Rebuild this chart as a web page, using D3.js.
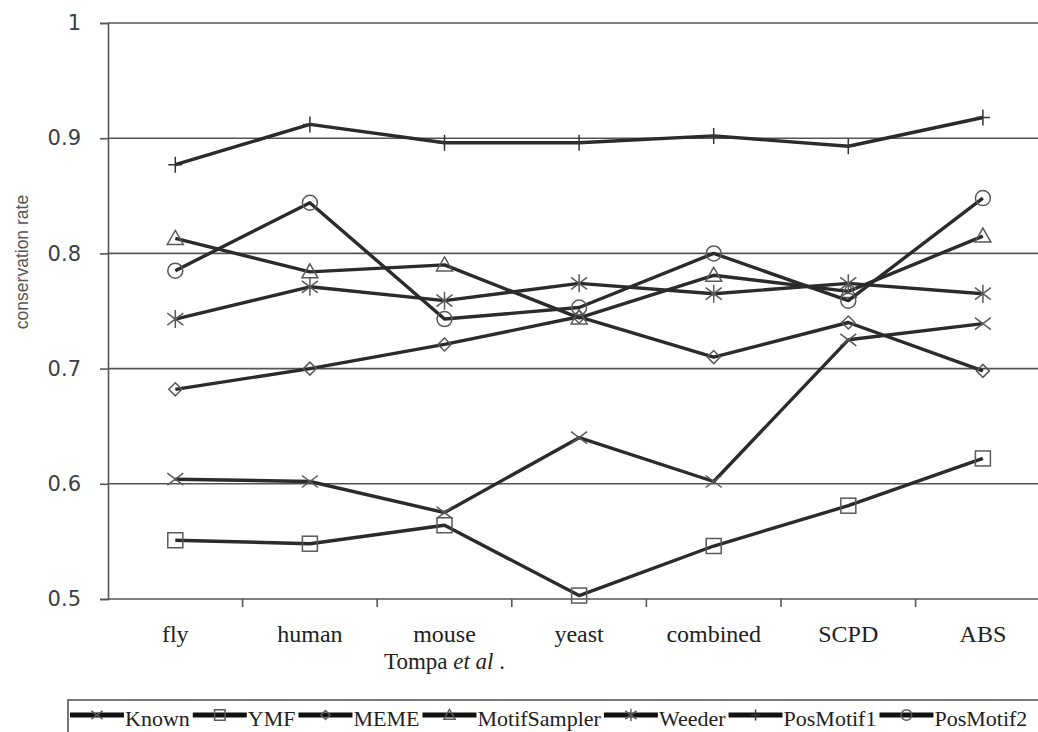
<!DOCTYPE html>
<html>
<head>
<meta charset="utf-8">
<script src="https://cdn.jsdelivr.net/npm/d3@7"></script>
<style>
	body { margin: 0; background: #fff; }
	svg { display: block; }
	.serif { font-family: "Liberation Serif", "Times New Roman", Times, serif; }
</style>
</head>
<body>
<svg id="chart" width="1038" height="732"></svg>
<script>
// categories along the x axis
const categories = ["fly", "human", "mouse", "yeast", "combined", "SCPD", "ABS"];
const yTicks = [0.5, 0.6, 0.7, 0.8, 0.9, 1];

// conservation rate per method
const known        = [0.604, 0.602, 0.575, 0.640, 0.602, 0.725, 0.739];
const ymf          = [0.551, 0.548, 0.564, 0.503, 0.546, 0.581, 0.622];
const meme         = [0.682, 0.700, 0.721, 0.745, 0.710, 0.740, 0.698];
const motifSampler = [0.813, 0.784, 0.790, 0.744, 0.781, 0.767, 0.815];
const weeder       = [0.743, 0.771, 0.759, 0.774, 0.765, 0.774, 0.765];
const posMotif1    = [0.877, 0.912, 0.896, 0.896, 0.902, 0.893, 0.918];
const posMotif2    = [0.785, 0.844, 0.743, 0.753, 0.800, 0.759, 0.848];

const seriesNames = ["Known", "YMF", "MEME", "MotifSampler", "Weeder", "PosMotif1", "PosMotif2"];
const seriesValues = [known, ymf, meme, motifSampler, weeder, posMotif1, posMotif2];
const seriesMarkers = ["x", "square", "diamond", "triangle", "star", "plus", "circle"];

const svg = d3.select("#chart");
const plotLeft = 108, plotTop = 23, plotBottom = 599;
const step = 134.6;

const xScale = d3.scaleBand().domain(categories)
	.range([plotLeft, plotLeft + step * categories.length])
	.paddingInner(0).paddingOuter(0);
const yScale = d3.scaleLinear().domain([0.5, 1]).range([plotBottom, plotTop]);

const gridColor = "#555";
const lineColor = "#2b2b2b";
const markColor = "#5a5a5a";

// horizontal gridlines
svg.append("g").selectAll("line").data(yTicks.slice(1)).enter().append("line")
	.attr("x1", plotLeft).attr("x2", 1038)
	.attr("y1", d => yScale(d)).attr("y2", d => yScale(d))
	.attr("stroke", gridColor).attr("stroke-width", 1.6);

// y axis
const yAxis = svg.append("g").attr("class", "yAxis")
	.attr("transform", "translate(" + [plotLeft, 0] + ")")
	.call(d3.axisLeft(yScale).tickValues(yTicks).tickSize(8).tickPadding(19)
		.tickFormat(d => d === 1 ? "1" : d3.format(".1f")(d)));
yAxis.select(".domain").attr("stroke", gridColor).attr("stroke-width", 1.6);
yAxis.selectAll(".tick line").attr("stroke", gridColor).attr("stroke-width", 1.6);
yAxis.selectAll(".tick text")
	.attr("font-family", "DejaVu Sans, sans-serif")
	.attr("font-size", 21).attr("fill", "#3a3f48");

// x axis: ticks at category boundaries, labels at centres
svg.append("line")
	.attr("x1", plotLeft).attr("x2", 1038).attr("y1", plotBottom).attr("y2", plotBottom)
	.attr("stroke", gridColor).attr("stroke-width", 1.6);
svg.append("g").selectAll("line").data(categories.slice(1)).enter().append("line")
	.attr("x1", d => xScale(d)).attr("x2", d => xScale(d))
	.attr("y1", plotBottom).attr("y2", plotBottom + 8)
	.attr("stroke", gridColor).attr("stroke-width", 1.6);
svg.append("g").selectAll("text").data(categories).enter().append("text")
	.attr("class", "serif")
	.attr("x", d => xScale(d) + xScale.bandwidth() / 2)
	.attr("y", 642)
	.attr("text-anchor", "middle")
	.attr("font-size", 24).attr("fill", "#222")
	.text(d => d);

// axis titles
const xTitle = svg.append("text")
	.attr("class", "serif")
	.attr("x", xScale("mouse") + xScale.bandwidth() / 2).attr("y", 669)
	.attr("text-anchor", "middle")
	.attr("font-size", 23).attr("fill", "#222");
xTitle.append("tspan").text("Tompa ");
xTitle.append("tspan").attr("font-style", "italic").text("et al");
xTitle.append("tspan").text(" .");

svg.append("text")
	.attr("transform", "translate(28,262) rotate(-90)")
	.attr("text-anchor", "middle")
	.attr("font-family", "Liberation Sans, sans-serif")
	.attr("font-size", 17.5).attr("fill", "#555")
	.text("conservation rate");

// marker shapes, k scales the size
function drawMarker(g, type, x, y, k) {
	const m = g.append("g").attr("transform", "translate(" + [x, y] + ") scale(" + k + ")")
		.attr("fill", "none").attr("stroke", markColor).attr("stroke-width", 1.5 / k);
	if (type === "x") {
		m.append("path").attr("d", "M-8,-6L8,6M-8,6L8,-6");
	} else if (type === "square") {
		m.append("rect").attr("x", -7.5).attr("y", -7.5).attr("width", 15).attr("height", 15);
	} else if (type === "diamond") {
		m.append("path").attr("d", "M0,-6.5L6.5,0L0,6.5L-6.5,0Z");
	} else if (type === "triangle") {
		m.append("path").attr("d", "M0,-8L8,6L-8,6Z");
	} else if (type === "star") {
		m.append("path").attr("d", "M-8,-6L8,6M-8,6L8,-6M0,-9L0,9");
	} else if (type === "plus") {
		m.append("path").attr("d", "M-7,0L7,0M0,-8L0,8").attr("stroke", "#333");
	} else if (type === "circle") {
		m.append("circle").attr("r", 7.5);
	}
}

// series lines and markers
const line = d3.line()
	.x((d, i) => xScale(categories[i]) + xScale.bandwidth() / 2)
	.y(d => yScale(d));

seriesValues.forEach(function(values, k) {
	const g = svg.append("g").attr("class", "series");
	g.append("path").datum(values)
		.attr("d", line)
		.attr("fill", "none")
		.attr("stroke", lineColor)
		.attr("stroke-width", 3.4)
		.attr("stroke-linejoin", "round");
	values.forEach(function(v, i) {
		drawMarker(g, seriesMarkers[k], xScale(categories[i]) + xScale.bandwidth() / 2, yScale(v), 1);
	});
});

// legend, items laid out one after another
const legend = svg.append("g").attr("class", "legend");
legend.append("rect")
	.attr("x", 68).attr("y", 700).attr("width", 1000).attr("height", 60)
	.attr("fill", "#fff").attr("stroke", gridColor).attr("stroke-width", 1.6);
let cursor = 70;
seriesNames.forEach(function(name, k) {
	const y0 = 715;
	legend.append("line")
		.attr("x1", cursor).attr("x2", cursor + 54).attr("y1", y0).attr("y2", y0)
		.attr("stroke", "#111").attr("stroke-width", 5);
	drawMarker(legend, seriesMarkers[k], cursor + 27, y0, 0.7);
	const t = legend.append("text")
		.attr("class", "serif")
		.attr("x", cursor + 55).attr("y", 726)
		.attr("font-size", 22).attr("fill", "#222")
		.text(name);
	cursor += 55 + t.node().getComputedTextLength() + 3;
});
</script>
</body>
</html>
